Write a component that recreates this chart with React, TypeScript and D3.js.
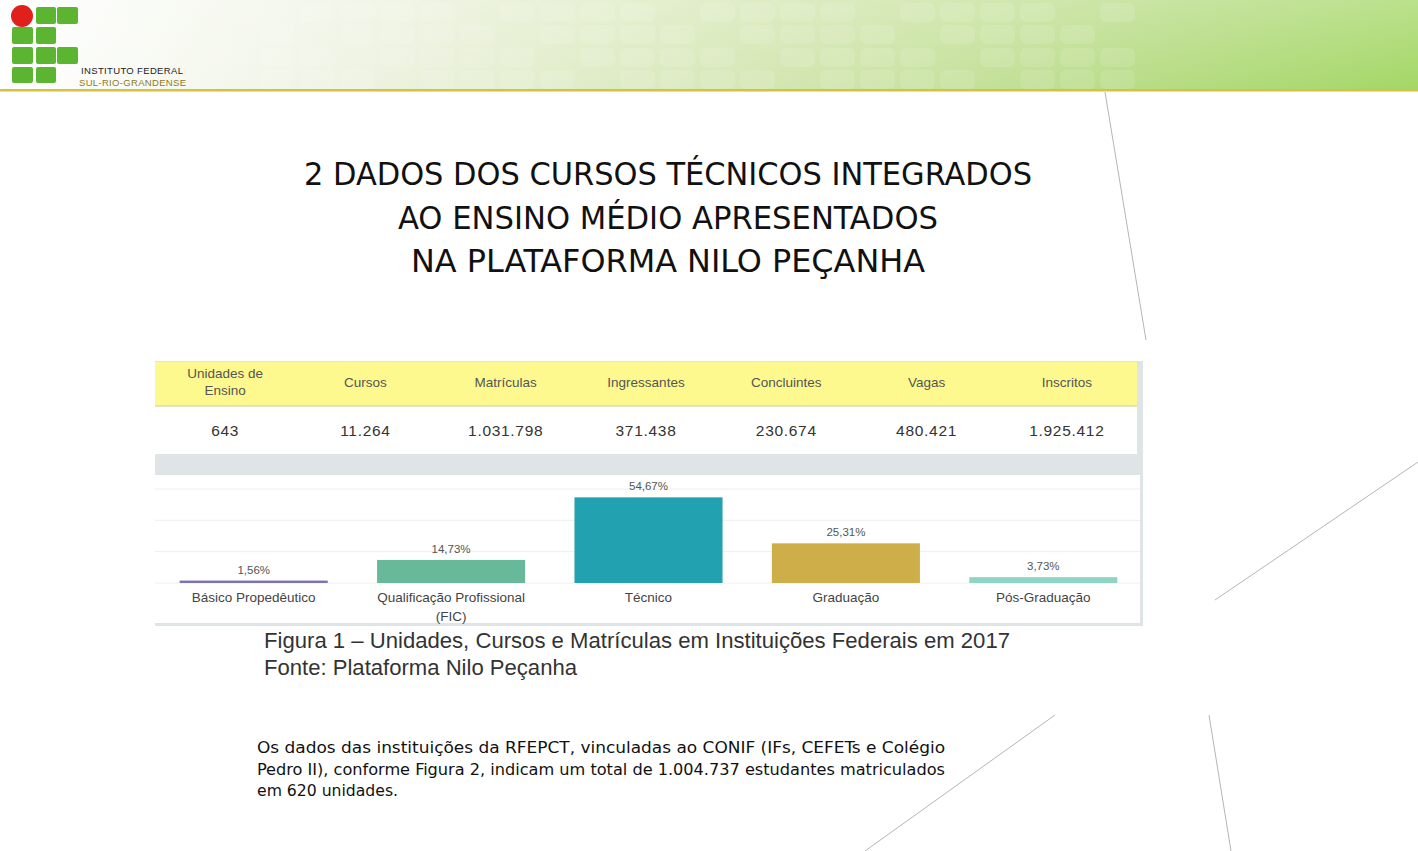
import * as d3 from 'd3';

// Table (Plataforma Nilo Peçanha 2017)
const tableHeaders = [['Unidades de', 'Ensino'], ['Cursos'], ['Matrículas'], ['Ingressantes'], ['Concluintes'], ['Vagas'], ['Inscritos']];
const tableValues = ['643', '11.264', '1.031.798', '371.438', '230.674', '480.421', '1.925.412'];

// Bar chart: share of enrolments per type of course (%)
const categories = [['Básico Propedêutico'], ['Qualificação Profissional', '(FIC)'], ['Técnico'], ['Graduação'], ['Pós-Graduação']];
const shares = [1.56, 14.73, 54.67, 25.31, 3.73];
const barColors = ['#7d72b4', '#68b89a', '#22a1b1', '#cdae48', '#8fd4c4'];
const gridTicks = [0, 20, 40, 60];

const titleLines = ['2 DADOS DOS CURSOS TÉCNICOS INTEGRADOS', 'AO ENSINO MÉDIO APRESENTADOS', 'NA PLATAFORMA NILO PEÇANHA'];
const captionLines = ['Figura 1 – Unidades, Cursos e Matrículas em Instituições Federais em 2017', 'Fonte: Plataforma Nilo Peçanha'];
const paragraphLines = [
  'Os dados das instituições da RFEPCT, vinculadas ao CONIF (IFs, CEFETs e Colégio',
  'Pedro II), conforme Figura 2, indicam um total de 1.004.737 estudantes matriculados',
  'em 620 unidades.',
];

const fmtPct = (v: number) => v.toFixed(2).replace('.', ',') + '%';

export default function App() {
  const W = 1418;
  const H = 851;

  // table columns
  const colX = d3.scaleBand<number>().domain(d3.range(tableHeaders.length)).range([155, 1137]);

  // chart
  const x = d3.scaleBand<number>().domain(d3.range(categories.length)).range([155, 1142]).paddingInner(0.25).paddingOuter(0.125);
  const y = d3.scaleLinear().domain([0, 60]).range([583, 489]);

  // header deco tiles
  const tileCols = d3.range(0, 22);
  const tileRows = [3, 25, 48, 70];

  const titleWidths = [728, 540, 514];

  return (
    <svg width={W} height={H} style={{ position: 'absolute', left: 0, top: 0, display: 'block', background: '#fff' }}>
      <defs>
        <linearGradient id="hdr" x1="0" x2="1" y1="0" y2="0">
          <stop offset="0" stopColor="#ffffff" />
          <stop offset="0.25" stopColor="#eef3e2" />
          <stop offset="0.55" stopColor="#d3e6b0" />
          <stop offset="0.8" stopColor="#b8dc86" />
          <stop offset="1" stopColor="#a4d766" />
        </linearGradient>
        <linearGradient id="hdrV" x1="0" x2="0" y1="0" y2="1">
          <stop offset="0" stopColor="#ffffff" stopOpacity="0.25" />
          <stop offset="1" stopColor="#ffffff" stopOpacity="0" />
        </linearGradient>
      </defs>

      {/* header band */}
      <rect x={0} y={0} width={W} height={90} fill="url(#hdr)" />
      <rect x={0} y={0} width={W} height={90} fill="url(#hdrV)" />
      {tileRows.map((ty, ri) =>
        tileCols.map((ci) => {
          const tx = 260 + ci * 40;
          if ((ci * 7 + ri * 3) % 5 === 0) return null;
          return (
            <rect key={`t${ri}-${ci}`} x={tx} y={ty} width={35} height={19} rx={6}
              fill="#ffffff" opacity={0.12} />
          );
        })
      )}
      <rect x={0} y={89} width={W} height={2.5} fill="#d6c23c" />

      {/* logo */}
      <g>
        <circle cx={22} cy={16} r={11} fill="#e0201d" />
        <rect x={36} y={7} width={20} height={17} rx={2} fill="#5cb531" />
        <rect x={57} y={7} width={21} height={17} rx={2} fill="#5cb531" />
        <rect x={12} y={27} width={21} height={17} rx={2} fill="#5cb531" />
        <rect x={36} y={27} width={20} height={17} rx={2} fill="#5cb531" />
        <rect x={12} y={47} width={21} height={17} rx={2} fill="#5cb531" />
        <rect x={36} y={47} width={20} height={17} rx={2} fill="#5cb531" />
        <rect x={57} y={47} width={21} height={17} rx={2} fill="#5cb531" />
        <rect x={12} y={67} width={21} height={16} rx={2} fill="#5cb531" />
        <rect x={36} y={67} width={20} height={16} rx={2} fill="#5cb531" />
        <text x={81} y={74} fontFamily="Liberation Sans, Arial, sans-serif" fontSize={9.5} fill="#222" textLength={102} lengthAdjust="spacing">INSTITUTO FEDERAL</text>
        <text x={79} y={86} fontFamily="Liberation Sans, Arial, sans-serif" fontSize={9.5} fill="#8c7b1e" textLength={107} lengthAdjust="spacing">SUL-RIO-GRANDENSE</text>
      </g>

      {/* decorative lines */}
      <g stroke="#b5b5b5" strokeWidth={1}>
        <line x1={1105} y1={92} x2={1146} y2={340} />
        <line x1={1215} y1={600} x2={1418} y2={462} />
        <line x1={865} y1={851} x2={1055} y2={715} />
        <line x1={1209} y1={715} x2={1231} y2={851} />
      </g>

      {/* title */}
      {titleLines.map((t, i) => (
        <text key={t} x={668} y={185 + i * 43.5} textAnchor="middle" fontFamily="DejaVu Sans Condensed, DejaVu Sans, sans-serif"
          fontSize={32} fill="#111" textLength={titleWidths[i]} lengthAdjust="spacingAndGlyphs">{t}</text>
      ))}

      {/* figure: table */}
      <g fontFamily="Liberation Sans, Arial, sans-serif">
        <rect x={155} y={361} width={988} height={265} fill="#dfe5e6" />
        <rect x={155} y={362} width={982} height={44} fill="#fdf98e" />
        <rect x={155} y={405} width={982} height={1.5} fill="#e6e3a0" />
        <rect x={155} y={407} width={982} height={47} fill="#ffffff" />
        {tableHeaders.map((h, i) => (
          <text key={i} x={colX(i)! + colX.bandwidth() / 2} y={h.length > 1 ? 378 : 387} textAnchor="middle" fontSize={13.5} fill="#555">
            {h.map((line, j) => (
              <tspan key={j} x={colX(i)! + colX.bandwidth() / 2} dy={j === 0 ? 0 : 17}>{line}</tspan>
            ))}
          </text>
        ))}
        {tableValues.map((v, i) => (
          <text key={i} x={colX(i)! + colX.bandwidth() / 2} y={436} textAnchor="middle" fontSize={15.5} fill="#333" letterSpacing={0.7}>{v}</text>
        ))}

        {/* chart panel */}
        <rect x={155} y={475} width={985} height={148} fill="#ffffff" />
        {gridTicks.map((t) => (
          <line key={t} x1={155} x2={1140} y1={y(t)} y2={y(t)} stroke="#eeeeee" strokeWidth={1} />
        ))}
        {shares.map((v, i) => (
          <g key={i}>
            <rect x={x(i)} y={y(v)} width={x.bandwidth()} height={y(0) - y(v)} fill={barColors[i]} />
            <text x={x(i)! + x.bandwidth() / 2} y={y(v) - 7} textAnchor="middle" fontSize={11.5} fill="#555">{fmtPct(v)}</text>
            <text x={x(i)! + x.bandwidth() / 2} y={602} textAnchor="middle" fontSize={13.5} fill="#444">
              {categories[i].map((line, j) => (
                <tspan key={j} x={x(i)! + x.bandwidth() / 2} dy={j === 0 ? 0 : 19}>{line}</tspan>
              ))}
            </text>
          </g>
        ))}
      </g>

      {/* caption */}
      {captionLines.map((t, i) => (
        <text key={t} x={264} y={648 + i * 27} fontFamily="Liberation Sans Narrow, Liberation Sans, Arial, sans-serif"
          fontSize={22} fill="#333" textLength={i === 0 ? 746 : 313} lengthAdjust="spacingAndGlyphs">{t}</text>
      ))}

      {/* paragraph */}
      {paragraphLines.map((t, i) => (
        <text key={t} x={257} y={753 + i * 21.5} fontFamily="DejaVu Sans Condensed, DejaVu Sans, sans-serif"
          fontSize={16} fill="#111" textLength={i < 2 ? 688 : 141} lengthAdjust="spacingAndGlyphs">{t}</text>
      ))}
    </svg>
  );
}
